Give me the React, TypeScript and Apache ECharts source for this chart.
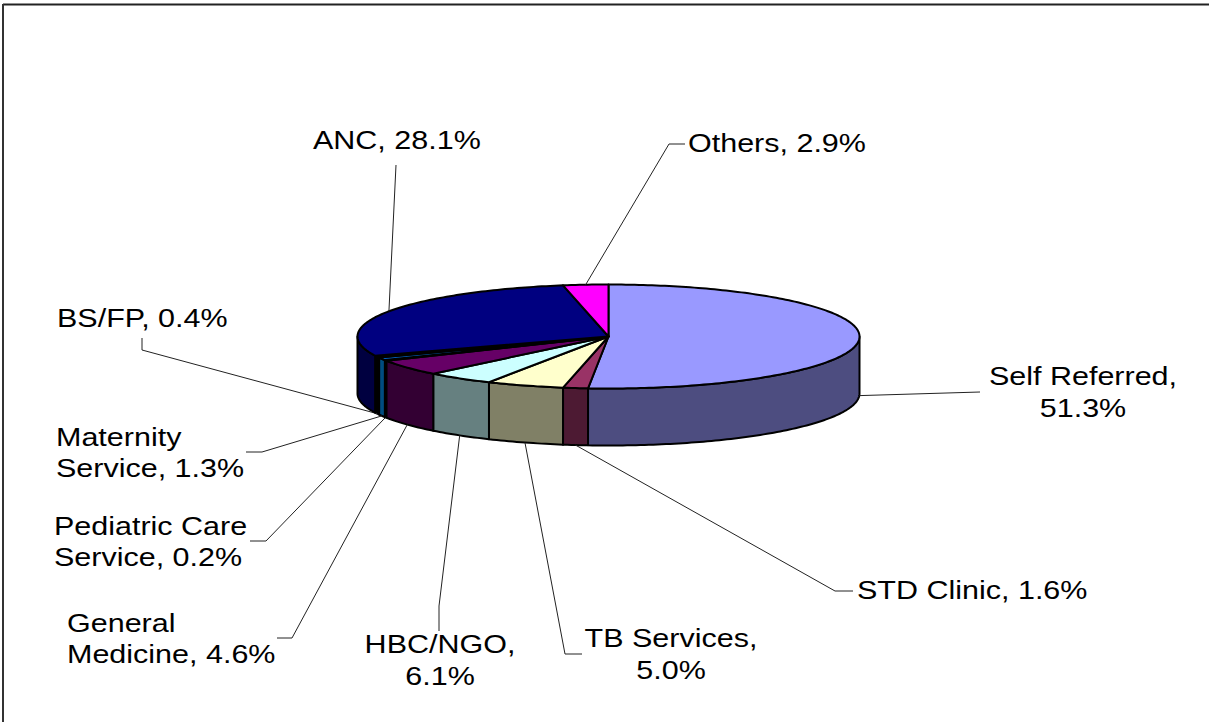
import React, { useEffect, useRef } from "react";
import * as echarts from "echarts";

const categories = ["Self Referred", "STD Clinic", "TB Services", "HBC/NGO", "General Medicine", "Pediatric Care Service", "Maternity Service", "BS/FP", "ANC", "Others"];
// Slice shares as drawn in the picture (%), read from the slice edges.
const drawnShares = [51.3, 1.6, 5.0, 4.4, 5.0, 0.2, 0.85, 0.65, 28.1, 2.9];
// Texts as printed in the picture.
const labelTexts = ["Self Referred,\n51.3%", "STD Clinic, 1.6%", "TB Services,\n5.0%", "HBC/NGO,\n6.1%", "General\nMedicine, 4.6%", "Pediatric Care\nService, 0.2%", "Maternity\nService, 1.3%", "BS/FP, 0.4%", "ANC, 28.1%", "Others, 2.9%"];
const topColors = ["#9999FF", "#993366", "#FFFFCC", "#CCFFFF", "#660066", "#000000", "#0066CC", "#000000", "#000080", "#FF00FF"];
const sideColors = ["#4D4D80", "#4D1A33", "#808066", "#668080", "#330033", "#000000", "#004D80", "#000000", "#000040", "#800080"];

// Layout of texts and leader lines (not data).
const labelLayout: [number, number, string, number][] = [
  [1083, 360, "center", 32], [857, 575, "left", 31], [671, 622, "center", 32], [440, 628, "center", 32], [67, 608, "left", 31],
  [54, 511, "left", 31], [56, 422, "left", 31], [57, 303, "left", 31], [313, 125, "left", 31], [688, 128, "left", 31],
];
const leaderBends: number[][][] = [
  [[980, 392]], [[835, 591], [853, 591]], [[565, 654], [582, 654]], [[439, 606], [439, 631]], [[292, 638], [277, 638]],
  [[266, 541], [250, 541]], [[262, 452], [246, 452]], [[142, 350], [142, 338]], [[396, 165]], [[669, 144], [685, 144]],
];

const CX = 608.5, CY = 336.5, RX = 251, RY = 52, DEPTH = 57;
const FONT_SIZE = 25, STRETCH = 1.22;

const total = drawnShares.reduce((a, b) => a + b, 0);
const startAngles: number[] = [];
drawnShares.reduce((acc, v, i) => {
  startAngles[i] = (acc / total) * Math.PI * 2;
  return acc + v;
}, 0);

const rim = (a: number, dy = 0) => [CX + RX * Math.sin(a), CY - RY * Math.cos(a) + dy];

function arc(a0: number, a1: number, dy = 0) {
  const n = Math.max(2, Math.ceil(((a1 - a0) / (Math.PI * 2)) * 360));
  const pts: number[][] = [];
  for (let i = 0; i <= n; i++) pts.push(rim(a0 + ((a1 - a0) * i) / n, dy));
  return pts;
}

function renderSlice(params: any, api: any) {
  const i = params.dataIndex;
  const a0 = startAngles[i];
  const a1 = a0 + (api.value(0) / total) * Math.PI * 2;
  const mid = (a0 + a1) / 2;
  const stroke = { stroke: "#000", lineWidth: 2, lineJoin: "round" };
  const children: any[] = [];

  const w0 = Math.max(a0, Math.PI / 2);
  const w1 = Math.min(a1, (Math.PI * 3) / 2);
  if (w1 > w0) {
    children.push({
      type: "polygon",
      shape: { points: [...arc(w0, w1), ...arc(w0, w1, DEPTH).reverse()] },
      style: { fill: sideColors[i], ...stroke },
    });
  }
  children.push({
    type: "polygon",
    shape: { points: [[CX, CY], ...arc(a0, a1)] },
    style: { fill: topColors[i], ...stroke },
  });

  const front = Math.cos(mid) < 0;
  const anchor = rim(mid, front ? DEPTH : 0);
  children.push({
    type: "polyline",
    shape: { points: [anchor, ...leaderBends[i]] },
    style: { fill: "none", stroke: "#222", lineWidth: 1 },
  });

  const [lx, ly, align, lineHeight] = labelLayout[i];
  children.push({
    type: "text",
    x: lx,
    y: ly,
    scaleX: STRETCH,
    style: {
      x: 0,
      y: 0,
      text: labelTexts[i],
      fill: "#000",
      fontFamily: "'Liberation Sans', Arial, sans-serif",
      fontSize: FONT_SIZE,
      lineHeight,
      textAlign: align,
      textVerticalAlign: "top",
    },
  });
  return { type: "group", children };
}

export default function App() {
  const ref = useRef<HTMLDivElement>(null);
  useEffect(() => {
    document.body.style.margin = "0";
    document.body.style.overflow = "hidden";
    const chart = echarts.init(ref.current!, null, { renderer: "svg" });
    chart.setOption({
      animation: false,
      backgroundColor: "#fff",
      graphic: [
        { type: "line", shape: { x1: 3, y1: 4.5, x2: 1209, y2: 4.5 }, style: { stroke: "#222", lineWidth: 2 } },
        { type: "line", shape: { x1: 3, y1: 4, x2: 3, y2: 722 }, style: { stroke: "#333", lineWidth: 2 } },
      ],
      series: [
        {
          type: "custom",
          name: "Referral source",
          coordinateSystem: "none",
          silent: true,
          clip: false,
          data: drawnShares.map((v, i) => ({ name: categories[i], value: [v] })),
          renderItem: renderSlice,
        },
      ],
    });
    return () => chart.dispose();
  }, []);
  return <div ref={ref} style={{ position: "fixed", left: 0, top: 0, width: 1209, height: 722 }} />;
}
